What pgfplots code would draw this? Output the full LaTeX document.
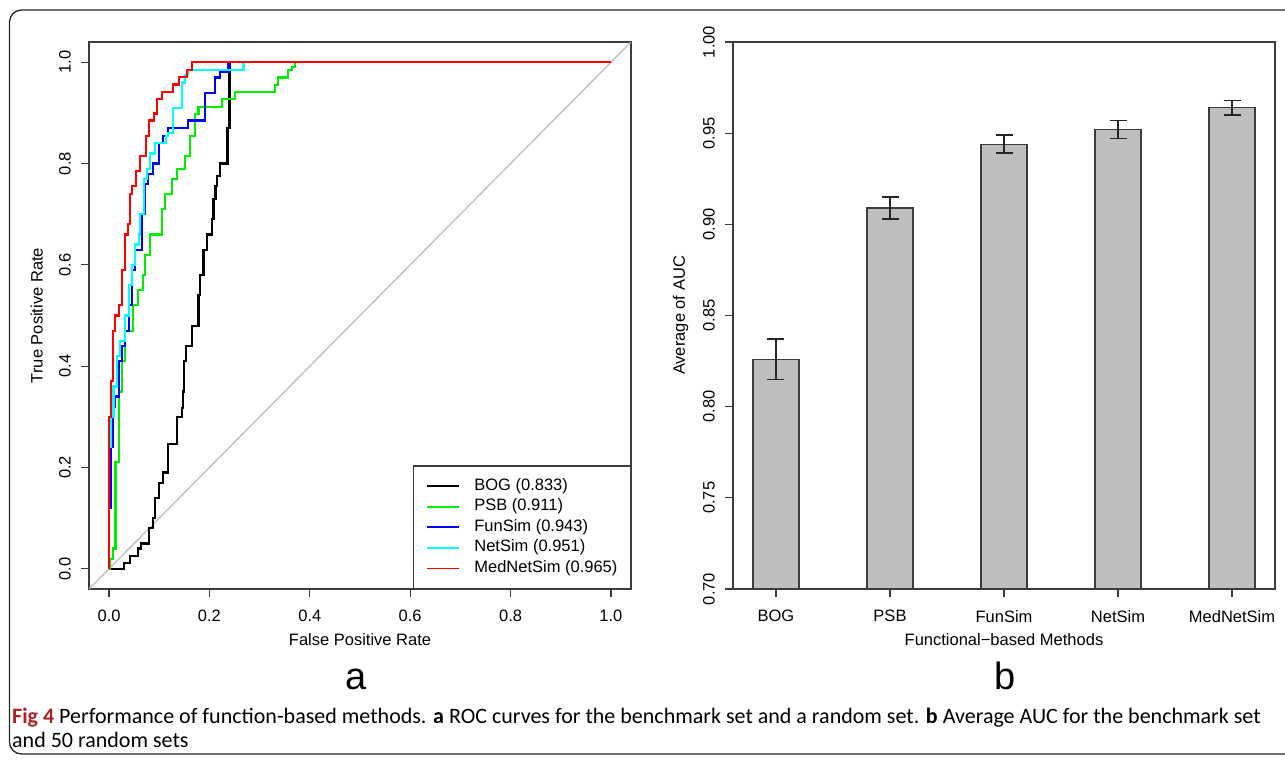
\documentclass[border=0pt]{standalone}
\usepackage{pgfplots}
\pgfplotsset{compat=1.18}
\usepackage{fontspec}
\setmainfont{Liberation Sans}
\newfontfamily\capfont{Carlito}
\definecolor{rgreen}{RGB}{0,238,0}
\definecolor{rblue}{RGB}{0,0,255}
\definecolor{rcyan}{RGB}{0,255,255}
\definecolor{rred}{RGB}{255,0,0}
\definecolor{rgray}{RGB}{190,190,190}
\definecolor{axcol}{RGB}{60,60,60}
\definecolor{figred}{RGB}{175,35,40}
\pgfplotsset{
 rstyle/.style={
  scale only axis, width=542pt, height=547pt, anchor=north west,
  axis line style={line width=1.2pt, axcol},
  tick style={line width=1.2pt, axcol},
  tick align=outside, major tick length=8pt,
  xtick pos=bottom, ytick pos=left,
  tick label style={font=\fontsize{16.5}{19}\selectfont, inner sep=0pt},
  xticklabel style={anchor=north},
  xticklabel shift=13pt,
  yticklabel style={rotate=90, anchor=south},
  yticklabel shift=10pt,
  label style={font=\fontsize{16.5}{19}\selectfont, inner sep=0pt},
  xlabel style={at={(axis description cs:0.5,-0.0932)}, anchor=center},
  ylabel style={at={(axis description cs:-0.0965,0.5)}, anchor=center},
 }
}
\begin{document}
\begin{tikzpicture}[x=1pt,y=1pt]
\useasboundingbox (0,0) rectangle (1285,-760);
\clip (0,0) rectangle (1285,-760);
\draw[line width=1.3pt, rounded corners=12pt, black!85] (9.5,-10) rectangle (1320,-754);

\begin{axis}[rstyle, at={(89pt,-42pt)},
  xmin=-0.04, xmax=1.04, ymin=-0.04, ymax=1.04,
  xtick={0,0.2,0.4,0.6,0.8,1}, xticklabels={0.0,0.2,0.4,0.6,0.8,1.0},
  ytick={0,0.2,0.4,0.6,0.8,1}, yticklabels={0.0,0.2,0.4,0.6,0.8,1.0},
  xlabel={False Positive Rate}, ylabel={True Positive Rate},
  legend style={at={(axis description cs:1,0)}, anchor=south east, draw=axcol, line width=1.2pt, fill=white,
    inner xsep=13pt, inner ysep=12pt, font=\fontsize{16.5}{19}\selectfont, cells={anchor=west},
    nodes={inner sep=0pt, text height=12pt, text depth=4pt}, row sep=4.6pt, column sep=14pt},
  legend image code/.code={\draw[#1, line width=1.8pt] (0pt,0pt) -- (32pt,0pt);},
]
\addplot[rgray, line width=1.3pt, forget plot] coordinates {(-0.04,-0.04) (1.04,1.04)};
\addplot[black, line width=2.2pt, const plot mark right] coordinates {
(0,0) (0.029,0) (0.041,0.012) (0.058,0.025) (0.064,0.04) (0.080,0.05) (0.087,0.08) (0.092,0.10)
(0.100,0.14) (0.108,0.17) (0.118,0.19) (0.135,0.247) (0.145,0.30) (0.148,0.317) (0.150,0.35)
(0.154,0.41) (0.165,0.44) (0.178,0.48) (0.181,0.54) (0.188,0.58) (0.195,0.63) (0.205,0.66)
(0.208,0.69) (0.212,0.73) (0.215,0.756) (0.221,0.775) (0.236,0.80) (0.240,0.87) (1.0,1.0)};
\addlegendentry{BOG (0.833)}
\addplot[rgreen, line width=2.2pt, const plot mark right] coordinates {
(0,0) (0.002,0) (0.008,0.02) (0.013,0.04) (0.019,0.21) (0.026,0.35) (0.032,0.41) (0.047,0.47)
(0.057,0.52) (0.067,0.55) (0.072,0.58) (0.082,0.62) (0.106,0.66) (0.112,0.71) (0.125,0.74)
(0.135,0.77) (0.152,0.79) (0.162,0.815) (0.172,0.855) (0.178,0.898) (0.225,0.912) (0.251,0.927)
(0.331,0.942) (0.337,0.955) (0.357,0.97) (0.365,0.984) (0.371,0.99) (1.0,1.0)};
\addlegendentry{PSB (0.911)}
\addplot[rblue, line width=2.2pt, const plot mark right] coordinates {
(0,0) (0.003,0.12) (0.008,0.24) (0.012,0.32) (0.019,0.34) (0.025,0.41) (0.031,0.44) (0.039,0.47)
(0.046,0.52) (0.052,0.59) (0.065,0.63) (0.072,0.70) (0.078,0.76) (0.088,0.78) (0.099,0.80)
(0.108,0.84) (0.118,0.855) (0.158,0.87) (0.191,0.885) (0.211,0.94) (0.221,0.97) (0.238,0.98) (1.0,1.0)};
\addlegendentry{FunSim (0.943)}
\addplot[rcyan, line width=2.2pt, const plot mark right] coordinates {
(0,0) (0.004,0.24) (0.009,0.30) (0.016,0.36) (0.022,0.42) (0.032,0.45) (0.039,0.50) (0.046,0.56)
(0.052,0.60) (0.059,0.64) (0.062,0.66) (0.069,0.70) (0.075,0.77) (0.082,0.79) (0.092,0.82)
(0.113,0.84) (0.118,0.855) (0.128,0.86) (0.145,0.91) (0.152,0.96) (0.158,0.975) (0.268,0.984) (1.0,1.0)};
\addlegendentry{NetSim (0.951)}
\addplot[rred, line width=2.2pt, const plot mark right] coordinates {
(0,0) (0.004,0.30) (0.008,0.37) (0.012,0.47) (0.019,0.50) (0.026,0.52) (0.032,0.59) (0.038,0.66)
(0.042,0.68) (0.046,0.74) (0.054,0.756) (0.061,0.786) (0.073,0.815) (0.079,0.855) (0.089,0.885)
(0.096,0.899) (0.106,0.927) (0.127,0.942) (0.140,0.956) (0.155,0.971) (0.165,0.984) (1.0,1.0)};
\addlegendentry{MedNetSim (0.965)}
\end{axis}

\begin{axis}[rstyle, at={(733pt,-42pt)},
  xmin=0.623, xmax=5.377, ymin=0.70, ymax=1.00,
  xtick={1,2,3,4,5}, xticklabels={BOG,PSB,FunSim,NetSim,MedNetSim},
  ytick={0.70,0.75,0.80,0.85,0.90,0.95,1.00}, yticklabels={0.70,0.75,0.80,0.85,0.90,0.95,1.00},
  xlabel={Functional−based Methods}, ylabel={Average of AUC},
]
\addplot[ybar, bar width=46pt, fill=rgray, draw=axcol, line width=1.2pt,
  error bars/.cd, y dir=both, y explicit, error mark=|,
  error bar style={line width=1.5pt, black!85},
  error mark options={line width=1.5pt, black!85, mark size=8.5pt}]
 coordinates {(1,0.826) +- (0,0.011) (2,0.909) +- (0,0.006) (3,0.944) +- (0,0.005) (4,0.952) +- (0,0.005) (5,0.964) +- (0,0.004)};
\end{axis}

\node[anchor=base, inner sep=0pt, font=\fontsize{38}{40}\selectfont] at (356,-689) {a};
\node[anchor=base, inner sep=0pt, font=\fontsize{38}{40}\selectfont] at (1005,-689) {b};
\node[anchor=base west, inner sep=0pt, font=\capfont\fontsize{22}{24}\selectfont] at (12,-723)
 {\textcolor{figred}{\bfseries Fig 4} Performance of function-based methods. \textbf{a} ROC curves for the benchmark set and a random set. \textbf{b} Average AUC for the benchmark set};
\node[anchor=base west, inner sep=0pt, font=\capfont\fontsize{22}{24}\selectfont] at (12,-747) {and 50 random sets};
\end{tikzpicture}
\end{document}
